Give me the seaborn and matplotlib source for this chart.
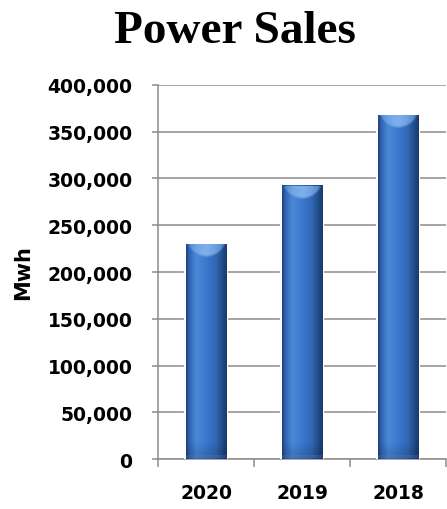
import numpy as np
import pandas as pd
import matplotlib
matplotlib.use("Agg")
import matplotlib.pyplot as plt
import seaborn as sns
from matplotlib.ticker import FuncFormatter, FixedLocator
from matplotlib.colors import LinearSegmentedColormap, to_rgb

# --- data ---------------------------------------------------------------
years = ["2020", "2019", "2018"]
sales_mwh = [230000, 293000, 368000]
y_ticks = [0, 50000, 100000, 150000, 200000, 250000, 300000, 350000, 400000]

sns.set_theme(style="white")
plt.rcParams["font.family"] = ["DejaVu Sans"]

fig = plt.figure(figsize=(4.47, 5.10), dpi=100)
ax = fig.add_axes([0.3535, 0.098, 0.6443, 0.7334])

df = pd.DataFrame({"Year": years, "Mwh": sales_mwh})
sns.barplot(data=df, x="Year", y="Mwh", order=years, color="#3b76cc",
            saturation=1, width=0.42, ax=ax, zorder=3)

ax.set_xlim(-0.5, len(years) - 0.5)
ax.set_ylim(0, y_ticks[-1])

# axes styling
grid_c = "#8c8c8c"
ax.yaxis.set_major_locator(FixedLocator(y_ticks))
ax.yaxis.set_major_formatter(FuncFormatter(lambda v, p: f"{int(v):,}"))
ax.grid(axis="y", color=grid_c, linewidth=1.1, zorder=0)
ax.set_axisbelow(True)
for side in ("top", "right"):
    ax.spines[side].set_visible(False)
for side in ("left", "bottom"):
    ax.spines[side].set_color(grid_c)
    ax.spines[side].set_linewidth(1.1)

ax.tick_params(axis="y", which="major", left=True, length=4.5, width=1.1,
               color=grid_c, pad=14, labelsize=13.5, labelcolor="black")
ax.set_xticks(np.arange(-0.5, len(years)), minor=True)
ax.tick_params(axis="x", which="minor", bottom=True, length=6, width=1.1, color=grid_c)
ax.tick_params(axis="x", which="major", bottom=False, length=0, pad=17,
               labelsize=13.5, labelcolor="black")
for lab in ax.get_xticklabels() + ax.get_yticklabels():
    lab.set_fontweight("bold")

ax.set_xlabel("")
ax.set_ylabel("Mwh", fontsize=15, fontweight="bold", color="black")
ax.yaxis.set_label_coords(-0.435, 0.5)

# --- glossy cylinder shading on each bar --------------------------------
stops = [(0.0, "#1f4688"), (0.08, "#3466b4"), (0.25, "#4a88d8"),
         (0.5, "#3b77cc"), (0.72, "#3269b8"), (0.88, "#24508f"), (1.0, "#1a3a6c")]
shade = LinearSegmentedColormap.from_list("shade", stops)
light_hi = np.array(to_rgb("#8fbdf2"))
light_lo = np.array(to_rgb("#4f88d6"))

fig.canvas.draw()
for patch in ax.patches:
    patch.set_edgecolor("white")
    patch.set_linewidth(3.0)
    x0, y0 = patch.get_x(), patch.get_y()
    w, h = patch.get_width(), patch.get_height()
    (px0, py0) = ax.transData.transform((x0, y0))
    (px1, py1) = ax.transData.transform((x0 + w, y0 + h))
    W = max(int(round(px1 - px0)), 2)
    H = max(int(round(py1 - py0)), 2)
    u = np.linspace(0, 1, W)
    img = np.tile(shade(u)[:, :3], (H, 1, 1))
    # bevelled top: light face whose lower edge arcs down toward the middle
    cx = np.abs(u - 0.5) * 2
    depth = 3 + 11 * (1 - cx ** 2)
    mix = np.clip(1 - cx ** 1.5, 0, 1)
    col = light_lo[None, :] * (1 - mix[:, None]) + light_hi[None, :] * mix[:, None]
    for r in range(min(16, H)):
        if r < 1:
            img[r] = img[r] * 0.85
            continue
        a = np.clip((depth - r) / 3.0, 0, 1) * 0.8
        a = a * np.clip((1 - cx) * 6 - r * 0.15, 0, 1)
        img[r] = img[r] * (1 - a[:, None]) + col * a[:, None]
    # softly darker base with a faint light rim
    n = min(18, H)
    for k, r in enumerate(range(H - n, H)):
        f = 1 - 0.18 * (k / n)
        img[r] = img[r] * f
    for r in range(max(H - 4, 0), H - 1):
        img[r] = img[r] * 0.75 + light_lo * 0.25
    im = ax.imshow(img, extent=(x0, x0 + w, y0, y0 + h), origin="upper",
                   aspect="auto", zorder=4, interpolation="bilinear")
    im.set_clip_path(patch)

ax.set_xlim(-0.5, len(years) - 0.5)
ax.set_ylim(0, y_ticks[-1])

fig.text(0.526, 1 - 43 / 510, "Power Sales", ha="center", va="baseline",
         fontsize=34, fontweight="bold", family=["Liberation Serif"], color="black")

fig.savefig("out.png", dpi=100, facecolor="white")
